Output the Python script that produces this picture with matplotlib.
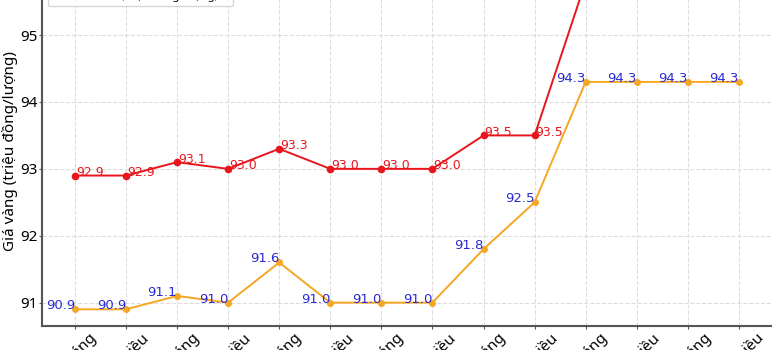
import matplotlib
matplotlib.use('Agg')
import matplotlib.pyplot as plt

plt.rcParams['font.family'] = ['Noto Sans', 'DejaVu Sans']

# data
labels = ['T2 sáng', 'T2 chiều', 'T3 sáng', 'T3 chiều',
          'T4 sáng', 'T4 chiều', 'T5 sáng', 'T5 chiều',
          'T6 sáng', 'T6 chiều', 'T7 sáng', 'T7 chiều',
          'CN sáng', 'CN chiều']
buy = [90.9, 90.9, 91.1, 91.0, 91.6, 91.0, 91.0, 91.0, 91.8, 92.5, 94.3, 94.3, 94.3, 94.3]
sell = [92.9, 92.9, 93.1, 93.0, 93.3, 93.0, 93.0, 93.0, 93.5, 93.5, 95.8, 95.8, 95.8, 95.8]

fig = plt.figure(figsize=(7.72, 3.5), dpi=100)
ax = fig.add_axes([41.7 / 772, 24.3 / 350, 730.4 / 772, 1.03])

x = list(range(len(labels)))
ax.plot(x, buy, color='#f5a623', marker='o', ms=4, lw=1.4, label='Mua vào (triệu đồng/lượng)')
ax.plot(x, sell, color='#e8161c', marker='o', ms=4.5, lw=1.4, label='Bán ra (triệu đồng/lượng)')

for i, v in enumerate(buy):
    ax.annotate(f'{v:.1f}', (i, v), xytext=(0, 3.5), textcoords='offset pixels',
                ha='right', va='center', color='#2a2ad4', fontsize=9.5,
                family='DejaVu Sans')
for i, v in enumerate(sell):
    ax.annotate(f'{v:.1f}', (i, v), xytext=(1, 3), textcoords='offset pixels',
                ha='left', va='center', color='#e8161c', fontsize=9,
                family='DejaVu Sans')

ax.set_xlim(-0.65, 13.65)
ax.set_ylim(90.655, 96.045)
ax.set_yticks([91, 92, 93, 94, 95])
ax.set_xticks(x)
ax.set_xticklabels(labels, rotation=45, fontsize=11)
ax.tick_params(axis='both', labelsize=11, length=2.5, pad=1.5, color='#555555')
ax.tick_params(axis='y', pad=0.5)
ax.set_ylabel('Giá vàng (triệu đồng/lượng)', fontsize=11)
ax.yaxis.set_label_coords(-0.033, 0.485)
ax.grid(True, linestyle='--', color='#dddddd', lw=0.8)
for s in ['left', 'bottom']:
    ax.spines[s].set_color('#555555')
    ax.spines[s].set_linewidth(1.5)
for s in ['top', 'right']:
    ax.spines[s].set_visible(False)

fig.legend(loc='lower left', bbox_to_anchor=(48 / 772, 344 / 350),
           bbox_transform=fig.transFigure, borderaxespad=0, fontsize=8)

fig.savefig('out.png', dpi=100)
